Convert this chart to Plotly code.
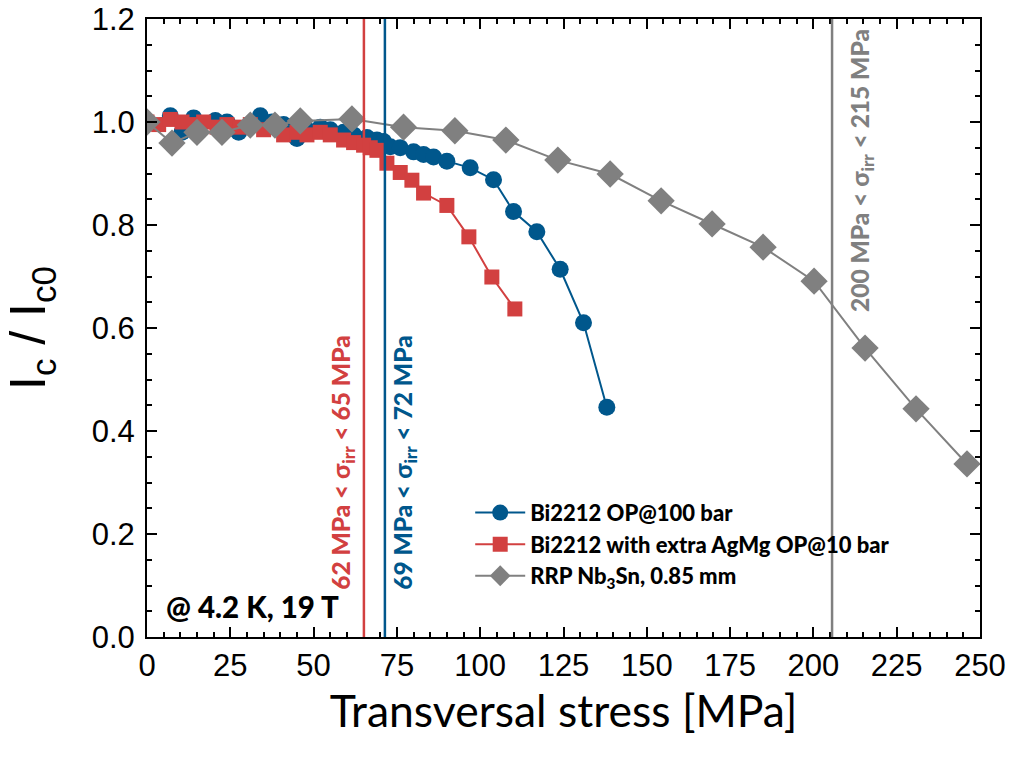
import plotly.graph_objects as go

# ---- data ----
bi_op_x = [0, 7, 10.5, 14, 20.5, 24, 27.5, 34, 37.5, 41, 45, 48, 52, 55, 59, 62, 66, 69, 71, 73,
           76, 80, 83, 86, 90, 97, 104, 110, 117, 124, 131, 138]
bi_op_y = [1.0, 1.012, 0.98, 1.008, 1.003, 1.0, 0.98, 1.012, 1.0, 0.995, 0.968, 0.985, 0.99, 0.985,
           0.98, 0.975, 0.97, 0.965, 0.962, 0.952, 0.95, 0.942, 0.937, 0.932, 0.924, 0.911, 0.888,
           0.826, 0.787, 0.714, 0.61, 0.446]

bi_ag_x = [0, 3.5, 7, 10.5, 14, 17, 21, 24, 28, 31, 35, 38, 41, 45, 48, 52, 55, 59, 62, 65, 67, 69,
           72, 76, 79.5, 83, 90, 96.6, 103.5, 110.4]
bi_ag_y = [1.0, 0.995, 1.005, 1.0, 0.995, 1.0, 0.99, 0.995, 0.99, 0.995, 0.985, 0.99, 0.975, 0.98,
           0.975, 0.98, 0.975, 0.965, 0.96, 0.955, 0.95, 0.945, 0.92, 0.902, 0.887, 0.862, 0.838,
           0.777, 0.699, 0.637]

nb_x = [0, 7.5, 15, 22.5, 31, 38.4, 46, 61.5, 77, 92.4, 107.7, 123.3, 139, 154.3, 169.6, 184.9,
        200.2, 215.5, 230.8, 246.1]
nb_y = [1.0, 0.959, 0.98, 0.98, 0.994, 0.994, 1.002, 1.006, 0.99, 0.983, 0.965, 0.926, 0.899,
        0.847, 0.802, 0.757, 0.691, 0.561, 0.443, 0.336]

series_names = ["Bi2212 OP@100 bar", "Bi2212 with extra AgMg OP@10 bar", "RRP Nb<sub>3</sub>Sn, 0.85 mm"]
limit_x = [65.1, 71.4, 205.6]
limit_text = ["62 MPa < σ<sub>irr</sub> < 65 MPa", "69 MPa < σ<sub>irr</sub> < 72 MPa",
              "200 MPa < σ<sub>irr</sub> < 215 MPa"]

x_ticks = [0, 25, 50, 75, 100, 125, 150, 175, 200, 225, 250]
y_ticks = [0.0, 0.2, 0.4, 0.6, 0.8, 1.0, 1.2]

BLUE = "#00578c"
RED = "#d24040"
GRAY = "#808080"
BOLD_FONT = "Lato"

fig = go.Figure()
fig.add_trace(go.Scatter(x=bi_op_x, y=bi_op_y, mode="lines+markers", name=series_names[0],
                         line=dict(color=BLUE, width=2),
                         marker=dict(symbol="circle", size=17, color=BLUE)))
fig.add_trace(go.Scatter(x=bi_ag_x, y=bi_ag_y, mode="lines+markers", name=series_names[1],
                         line=dict(color=RED, width=2),
                         marker=dict(symbol="square", size=15, color=RED)))
fig.add_trace(go.Scatter(x=nb_x, y=nb_y, mode="lines+markers", name=series_names[2],
                         line=dict(color=GRAY, width=2),
                         marker=dict(symbol="diamond", size=21, color=GRAY)))

line_colors = [RED, BLUE, GRAY]
for xv, c in zip(limit_x, line_colors):
    fig.add_shape(type="line", x0=xv, x1=xv, y0=0, y1=1.2, xref="x", yref="y",
                  line=dict(color=c, width=2.5), layer="above")

label_pos = [(-6.3, 0.34), (6.0, 0.34), (9.0, 0.905)]
for (dx, yv), xv, c, t in zip(label_pos, limit_x, line_colors, limit_text):
    fig.add_annotation(x=xv + dx, y=yv, xref="x", yref="y", text=t, textangle=-90,
                       showarrow=False, font=dict(family=BOLD_FONT, size=24.5, color=c, weight=900))

fig.add_annotation(x=0.021, y=0.05, xref="paper", yref="paper", text="@ 4.2 K, 19 T",
                   showarrow=False, xanchor="left", yanchor="middle",
                   font=dict(family=BOLD_FONT, size=29.5, color="black", weight=900))

axis_common = dict(showline=True, linecolor="black", linewidth=2, mirror="ticks",
                   ticks="inside", ticklen=10, tickwidth=2, tickcolor="black",
                   showgrid=False, zeroline=False, automargin=False,
                   tickfont=dict(family="Liberation Sans, Arial", size=31, color="black"))

fig.update_xaxes(range=[0, 250], tickvals=x_ticks, ticktext=[str(v) for v in x_ticks],
                 minor=dict(dtick=5, ticks="inside", ticklen=5, tickwidth=2, tickcolor="black"),
                 title=dict(text="Transversal stress [MPa]", standoff=13,
                            font=dict(family="Lato", size=44.5, color="black")),
                 **axis_common)
fig.update_yaxes(range=[0, 1.2], tickvals=y_ticks, ticktext=[f"{v:.1f}" for v in y_ticks],
                 minor=dict(dtick=0.05, ticks="inside", ticklen=5, tickwidth=2, tickcolor="black"),
                 ticklabelstandoff=4,
                 title=dict(text="I<sub>c</sub> / I<sub>c0</sub>", standoff=30,
                            font=dict(family="Liberation Sans, Arial", size=50, color="black")),
                 **axis_common)

fig.update_layout(
    width=1009, height=760,
    margin=dict(l=147, r=29, t=19, b=123),
    plot_bgcolor="white", paper_bgcolor="white",
    legend=dict(x=0.388, y=0.235, xanchor="left", yanchor="top",
                bgcolor="rgba(0,0,0,0)", borderwidth=0,
                font=dict(family=BOLD_FONT, size=22, color="black", weight=900),
                itemwidth=50),
)

fig.write_html("out.html")
